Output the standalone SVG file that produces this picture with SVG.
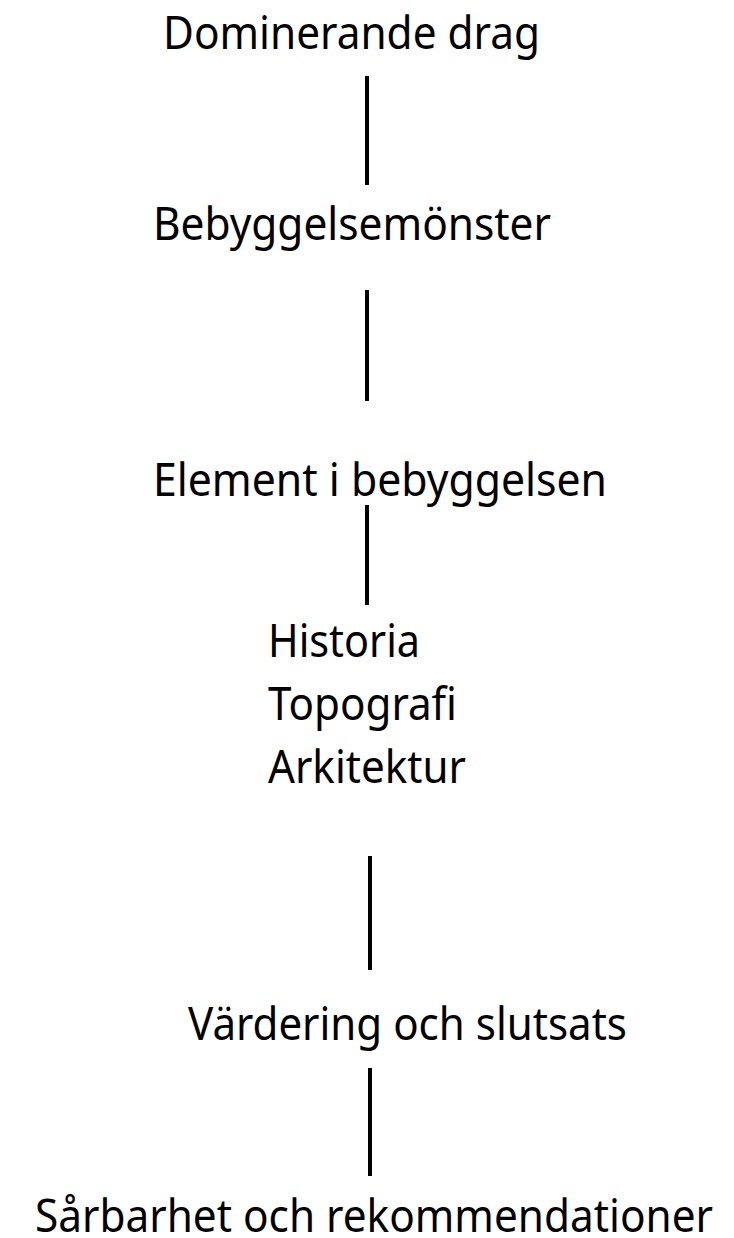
<svg xmlns="http://www.w3.org/2000/svg" width="734" height="1238" viewBox="0 0 734 1238">
<style>
.t{font-family:"Noto Sans","Open Sans","Liberation Sans",sans-serif;font-size:45px;fill:#000}
.c{stroke:#000;stroke-width:4;fill:none}
</style>
<rect width="734" height="1238" fill="#fff"/>
<g id="n1"><text class="t" x="163" y="49" textLength="377" lengthAdjust="spacingAndGlyphs">Dominerande drag</text></g>
<g id="n2"><text class="t" x="153" y="240" textLength="398" lengthAdjust="spacingAndGlyphs">Bebyggelsemönster</text></g>
<g id="n3"><text class="t" x="153" y="496" textLength="454" lengthAdjust="spacingAndGlyphs">Element i bebyggelsen</text></g>
<g id="n4">
<text class="t" x="268" y="657" textLength="152" lengthAdjust="spacingAndGlyphs">Historia</text>
<text class="t" x="268" y="720" textLength="189" lengthAdjust="spacingAndGlyphs">Topografi</text>
<text class="t" x="268" y="783" textLength="198" lengthAdjust="spacingAndGlyphs">Arkitektur</text>
</g>
<g id="n5"><text class="t" x="188" y="1040" textLength="439" lengthAdjust="spacingAndGlyphs">Värdering och slutsats</text></g>
<g id="n6"><text class="t" x="35" y="1232" textLength="678" lengthAdjust="spacingAndGlyphs">Sårbarhet och rekommendationer</text></g>
<g id="connectors">
<line class="c" x1="367" y1="76" x2="367" y2="185"/>
<line class="c" x1="367" y1="290" x2="367" y2="401"/>
<line class="c" x1="367" y1="505" x2="367" y2="605"/>
<line class="c" x1="370" y1="856" x2="370" y2="970"/>
<line class="c" x1="370" y1="1068" x2="370" y2="1176"/>
</g>
</svg>
